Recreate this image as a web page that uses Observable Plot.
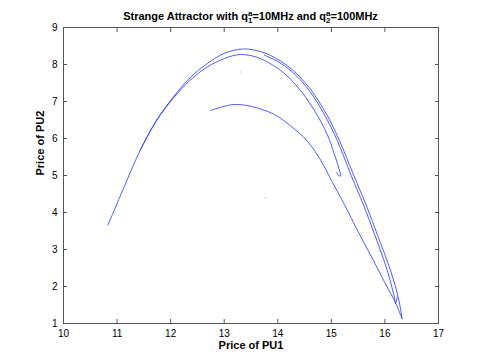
<!DOCTYPE html>
<html><head><meta charset="utf-8">
<script src="https://cdn.jsdelivr.net/npm/d3@7"></script>
<script src="https://cdn.jsdelivr.net/npm/@observablehq/plot@0.6"></script>
<style>body{margin:0;background:#fff}</style>
</head><body><div id="chart"></div>
<script>
const xTicks = [10, 11, 12, 13, 14, 15, 16, 17];
const yTicks = [1, 2, 3, 4, 5, 6, 7, 8, 9];

// Outer strand: left arm up to the peak, then outermost right arm down to the tip
const outerStrand = [
  [10.83,3.66],[11.12,4.65],[11.43,5.68],[11.74,6.50],[12.05,7.12],[12.36,7.64],[12.68,8.02],
  [13.0,8.30],[13.36,8.42],[13.7,8.34],[14.0,8.14],[14.3,7.82],[14.6,7.35],[14.9,6.68],
  [15.14,5.98],[15.42,5.0],[15.65,4.2],[15.88,3.32],[16.1,2.45],[16.25,1.7],[16.32,1.13]
];
// Inner strand: second arc under the peak, ending in the hook near (15.2, 5)
const innerStrand = [
  [11.43,5.68],[11.74,6.49],[12.05,7.09],[12.36,7.57],[12.68,7.93],[13.0,8.16],
  [13.3,8.27],[13.6,8.2],[13.9,7.99],[14.2,7.66],[14.45,7.25],[14.7,6.72],[14.92,6.12],
  [15.05,5.6],[15.14,5.2],[15.17,4.99],[15.13,5.0],[15.1,5.08]
];
// Middle strand: starts right of the peak, runs just inside the outer arm to a small fold
const middleStrand = [
  [13.75,8.25],[14.0,8.08],[14.3,7.76],[14.6,7.27],[14.88,6.62],[15.1,5.98],[15.37,5.0],
  [15.6,4.2],[15.83,3.32],[16.04,2.45],[16.17,1.75],[16.2,1.54],[16.23,1.72]
];
// Low arc: from (12.75, 6.76) over its crest down to the bottom tip
const lowStrand = [
  [12.75,6.76],[13.0,6.87],[13.2,6.92],[13.5,6.87],[13.92,6.66],[14.25,6.33],[14.55,5.93],
  [14.8,5.42],[15.0,4.87],[15.25,4.2],[15.5,3.48],[15.75,2.8],[16.0,2.1],[16.2,1.55],[16.32,1.13]
];
const strayPoints = [[13.3,7.8],[15.89,2.95],[13.77,4.4]];

const strands = {outer: outerStrand, inner: innerStrand, middle: middleStrand, low: lowStrand};
const lineData = Object.entries(strands).flatMap(([name, pts]) => pts.map(([x, y]) => ({strand: name, x, y})));
const dotData = strayPoints.map(([x, y]) => ({x, y}));

const font = "'Liberation Sans', Arial, Helvetica, sans-serif";
const plot = Plot.plot({
  width: 485, height: 364,
  marginLeft: 63, marginRight: 47, marginTop: 27, marginBottom: 41,
  style: {fontFamily: font, fontSize: "10px", color: "#000", background: "#fff"},
  x: {domain: [10, 17]},
  y: {domain: [1, 9]},
  marks: [
    Plot.line(lineData, {x: "x", y: "y", z: "strand", stroke: "#2233ff", strokeWidth: 0.8, curve: "catmull-rom"}),
    Plot.dot(dotData, {x: "x", y: "y", r: 0.6, fill: "#aaa", stroke: null}),
    Plot.frame({stroke: "#555"}),
    Plot.axisX(xTicks, {anchor: "bottom", tickSize: -4, tickPadding: 10, stroke: "#555", label: null}),
    Plot.axisX(xTicks, {anchor: "top", tickSize: -4, tickFormat: () => "", stroke: "#555", label: null}),
    Plot.axisY(yTicks, {anchor: "left", tickSize: -4, tickPadding: 10, stroke: "#555", label: null}),
    Plot.axisY(yTicks, {anchor: "right", tickSize: -4, tickFormat: () => "", stroke: "#555", label: null}),
    Plot.text(["Price of PU1"], {text: d => d, frameAnchor: "bottom", dy: 25, fontWeight: "bold", fontSize: 11}),
    Plot.text(["Price of PU2"], {text: d => d, frameAnchor: "left", dx: -23, rotate: -90, fontWeight: "bold", fontSize: 11})
  ]
});
document.getElementById("chart").appendChild(plot);

// Title with stacked super/subscripts
const svg = d3.select(plot);
const t = svg.append("text")
  .attr("x", 250.5).attr("y", 20)
  .attr("text-anchor", "middle")
  .attr("font-family", font).attr("font-weight", "bold").attr("font-size", 11)
  .attr("fill", "#000");
function qpart(sub, rest) {
  t.append("tspan").attr("font-size", 8).attr("dy", -4.5).text("a");
  t.append("tspan").attr("font-size", 8).attr("dx", -4.5).attr("dy", 7.5).text(sub);
  t.append("tspan").attr("dy", -3).text(rest);
}
t.append("tspan").text("Strange Attractor with q");
qpart("1", "=10MHz and q");
qpart("2", "=100MHz");
</script>
</body></html>
